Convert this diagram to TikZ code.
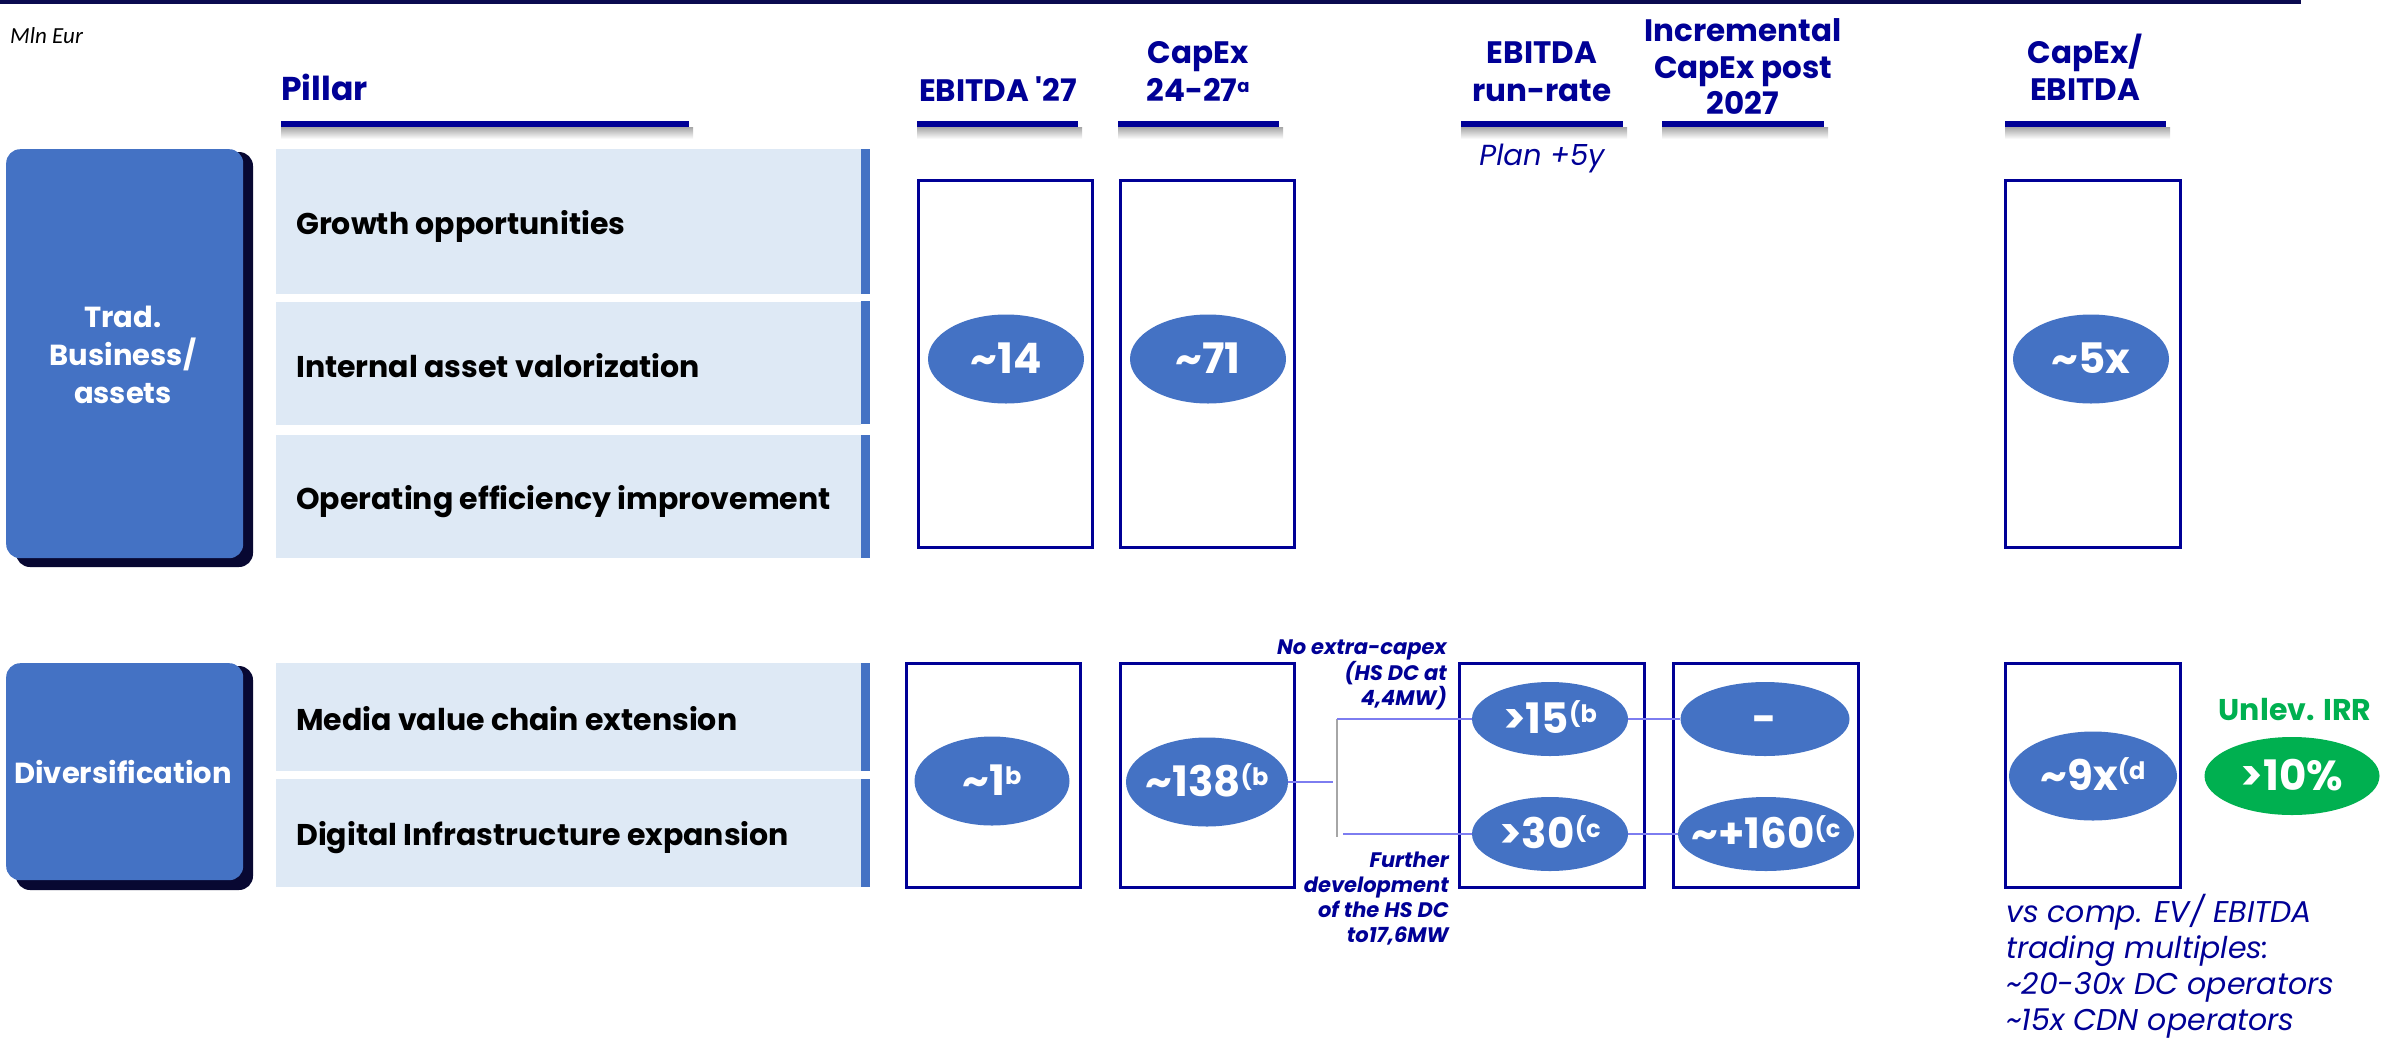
\documentclass[tikz,border=0pt]{standalone}
\usepackage{fontspec}
\setmainfont{Poppins}
\newfontfamily\calib{Carlito}
\usetikzlibrary{shapes.geometric}
\definecolor{navy}{RGB}{0,0,150}
\definecolor{topnavy}{RGB}{10,10,80}
\definecolor{blu}{RGB}{68,114,196}
\definecolor{pale}{RGB}{222,233,245}
\definecolor{shad}{RGB}{8,8,50}
\definecolor{linkc}{RGB}{125,125,240}
\definecolor{grn}{RGB}{0,176,80}
\newcommand\supr[1]{\raisebox{11pt}{\fontsize{24}{24}\selectfont #1}}
\newcommand\supa[1]{\raisebox{9pt}{\fontsize{18}{18}\selectfont #1}}
\begin{document}
\begin{tikzpicture}[x=1pt,y=-1pt,
  hdr/.style={text=navy,font=\fontsize{31}{31}\selectfont\bfseries,anchor=base,inner sep=0pt},
  pil/.style={text=black,font=\fontsize{30}{30}\selectfont\bfseries,anchor=base west,inner sep=0pt},
  wlab/.style={text=white,font=\fontsize{29}{29}\selectfont\bfseries,anchor=base,inner sep=0pt},
  oval/.style={ellipse,fill=blu,inner sep=0pt},
  ovtext/.style={text=white,font=\fontsize{42}{42}\selectfont\bfseries,inner sep=0pt,text height=29pt,text depth=0pt},
  valbox/.style={draw=navy,line width=2.5pt,inner sep=0pt,anchor=north west},
  rowbox/.style={fill=pale,inner sep=0pt,anchor=north west},
  blockbox/.style={fill=blu,rounded corners=14pt,inner sep=0pt,anchor=north west},
  note/.style={text=navy,font=\fontsize{21}{21}\selectfont\bfseries\itshape,anchor=base east,inner sep=0pt},
  cmt/.style={text=navy,font=\fontsize{30}{30}\selectfont\itshape,anchor=base west,inner sep=0pt},
  link/.style={draw=linkc,line width=2.5pt},
]
\useasboundingbox (0,0) rectangle (2382,1045);

% top rule
\draw[topnavy,line width=4pt] (0,2) -- (2301,2);
\node[anchor=base west,inner sep=0pt,font=\calib\itshape\fontsize{23}{23}\selectfont] (mln) at (10,43) {Mln Eur};

% header underlines
\foreach \a/\b in {281/689, 917/1078, 1118/1279, 1461/1623, 1662/1824, 2005/2166}{
  \shade[top color=black!35,bottom color=white] (\a,127) rectangle (\b+4,139);
  \fill[navy] (\a,121) rectangle (\b,127);
}

% headers
\node[hdr,anchor=base west,font=\fontsize{33}{33}\selectfont\bfseries] (pillar) at (281,100) {Pillar};
\node[hdr] (h1) at (998,101) {EBITDA \textquotesingle 27};
\node[hdr] (h2a) at (1198,63) {CapEx};
\node[hdr] (h2b) at (1198,101) {24-27\supa{a}};
\node[hdr] (h3a) at (1542,63) {EBITDA};
\node[hdr] (h3b) at (1542,101) {run-rate};
\node[hdr] (h4a) at (1743,41) {Incremental};
\node[hdr] (h4b) at (1743,78) {CapEx post};
\node[hdr] (h4c) at (1743,114) {2027};
\node[hdr] (h5a) at (2085,63) {CapEx/};
\node[hdr] (h5b) at (2085,100) {EBITDA};
\node[anchor=base,inner sep=0pt,text=navy,font=\fontsize{29}{29}\selectfont\itshape] (plan) at (1542,165) {Plan +5y};

% pillar rows
\node[rowbox,minimum width=585,minimum height=145] (r1) at (276,149) {};
\node[rowbox,minimum width=585,minimum height=123] (r2) at (276,302) {};
\node[rowbox,minimum width=585,minimum height=123] (r3) at (276,435) {};
\node[rowbox,minimum width=585,minimum height=108] (r4) at (276,663) {};
\node[rowbox,minimum width=585,minimum height=108] (r5) at (276,779) {};
\fill[blu] (861,149) rectangle (870,294);
\fill[blu] (861,301) rectangle (870,424);
\fill[blu] (861,435) rectangle (870,558);
\fill[blu] (861,663) rectangle (870,771);
\fill[blu] (861,779) rectangle (870,887);
\node[pil] (t1) at (296,234) {Growth opportunities};
\node[pil] (t2) at (296,377) {Internal asset valorization};
\node[pil] (t3) at (296,509) {Operating efficiency improvement};
\node[pil] (t4) at (296,730) {Media value chain extension};
\node[pil] (t5) at (296,845) {Digital Infrastructure expansion};

% left blocks
\fill[shad,rounded corners=14pt] (16,152) rectangle (253,567);
\node[blockbox,minimum width=237,minimum height=409] (blk1) at (6,149) {};
\fill[shad,rounded corners=14pt] (16,666) rectangle (253,890);
\node[blockbox,minimum width=237,minimum height=217] (blk2) at (6,663) {};
\node[wlab] (bl1a) at (123,327) {Trad.};
\node[wlab] (bl1b) at (123,365) {Business/};
\node[wlab] (bl1c) at (123,403) {assets};
\node[wlab] (bl2) at (123,783) {Diversification};

% value boxes
\node[valbox,minimum width=174,minimum height=367] (bA) at (917,179) {};
\node[valbox,minimum width=174,minimum height=367] (bB) at (1119,179) {};
\node[valbox,minimum width=175,minimum height=367] (bF) at (2004,179) {};
\node[valbox,minimum width=174,minimum height=224] (bA2) at (905,662) {};
\node[valbox,minimum width=174,minimum height=224] (bB2) at (1119,662) {};
\node[valbox,minimum width=185,minimum height=224] (bC2) at (1458,662) {};
\node[valbox,minimum width=185,minimum height=224] (bD2) at (1672,662) {};
\node[valbox,minimum width=175,minimum height=224] (bF2) at (2004,662) {};

% ovals
\node[oval,minimum width=156,minimum height=89,label={[ovtext]center:\textasciitilde 14}] (e14) at (1006,359) {};
\node[oval,minimum width=156,minimum height=89,label={[ovtext]center:\textasciitilde 71}] (e71) at (1208,359) {};
\node[oval,minimum width=156,minimum height=89,label={[ovtext]center:\textasciitilde 5x}] (e5x) at (2091,359) {};
\node[oval,minimum width=155,minimum height=89,label={[ovtext]center:\textasciitilde 1\supr{b}}] (e1) at (992,781) {};
\node[oval,minimum width=162,minimum height=89,label={[ovtext]center:\textasciitilde 138\supr{(b}}] (e138) at (1207,782) {};

% connectors
\coordinate (jn) at (1333,782);
\coordinate (vt) at (1337,719);
\coordinate (vb) at (1337,837);
\coordinate (lb) at (1343,834);
\draw[link] (e138.east) -- (jn);
\draw[gray!70,line width=2pt] (vt) -- (vb);

\node[oval,minimum width=156,minimum height=74,label={[ovtext]center:>15\supr{(b}}] (e15) at (1550,719) {};
\node[oval,minimum width=156,minimum height=74,label={[ovtext]center:>30\supr{(c}}] (e30) at (1550,834) {};
\node[oval,minimum width=169,minimum height=74,label={[ovtext]center:-}] (edash) at (1765,719) {};
\node[oval,minimum width=176,minimum height=74,label={[ovtext]center:\textasciitilde +160\supr{(c}}] (e160) at (1766,834) {};
\node[oval,minimum width=168,minimum height=89,label={[ovtext]center:\textasciitilde 9x\supr{(d}}] (e9) at (2093,776) {};
\node[ellipse,fill=grn,inner sep=0pt,minimum width=175,minimum height=78,label={[ovtext]center:>10\%}] (e10) at (2292,776) {};

\draw[link] (vt) -- (e15.west);
\draw[link] (lb) -- (e30.west);
\draw[link] (e15.east) -- (edash.west);
\draw[link] (e30.east) -- (e160.west);

% notes
\node[note] (n1) at (1447,654) {No extra-capex};
\node[note] (n2) at (1447,680) {(HS DC at};
\node[note] (n3) at (1447,705) {4,4MW)};
\node[note] (n4) at (1449,867) {Further};
\node[note] (n5) at (1449,892) {development};
\node[note] (n6) at (1449,917) {of the HS DC};
\node[note] (n7) at (1449,942) {to17,6MW};

% right side
\node[anchor=base,inner sep=0pt,text=grn,font=\fontsize{30}{30}\selectfont\bfseries] (irr) at (2295,720) {Unlev. IRR};
\node[cmt] (c1) at (2006,922) {vs comp. EV/ EBITDA};
\node[cmt] (c2) at (2006,958) {trading multiples:};
\node[cmt] (c3) at (2006,994) {\textasciitilde 20-30x DC operators};
\node[cmt] (c4) at (2006,1030) {\textasciitilde 15x CDN operators};
\end{tikzpicture}
\end{document}
